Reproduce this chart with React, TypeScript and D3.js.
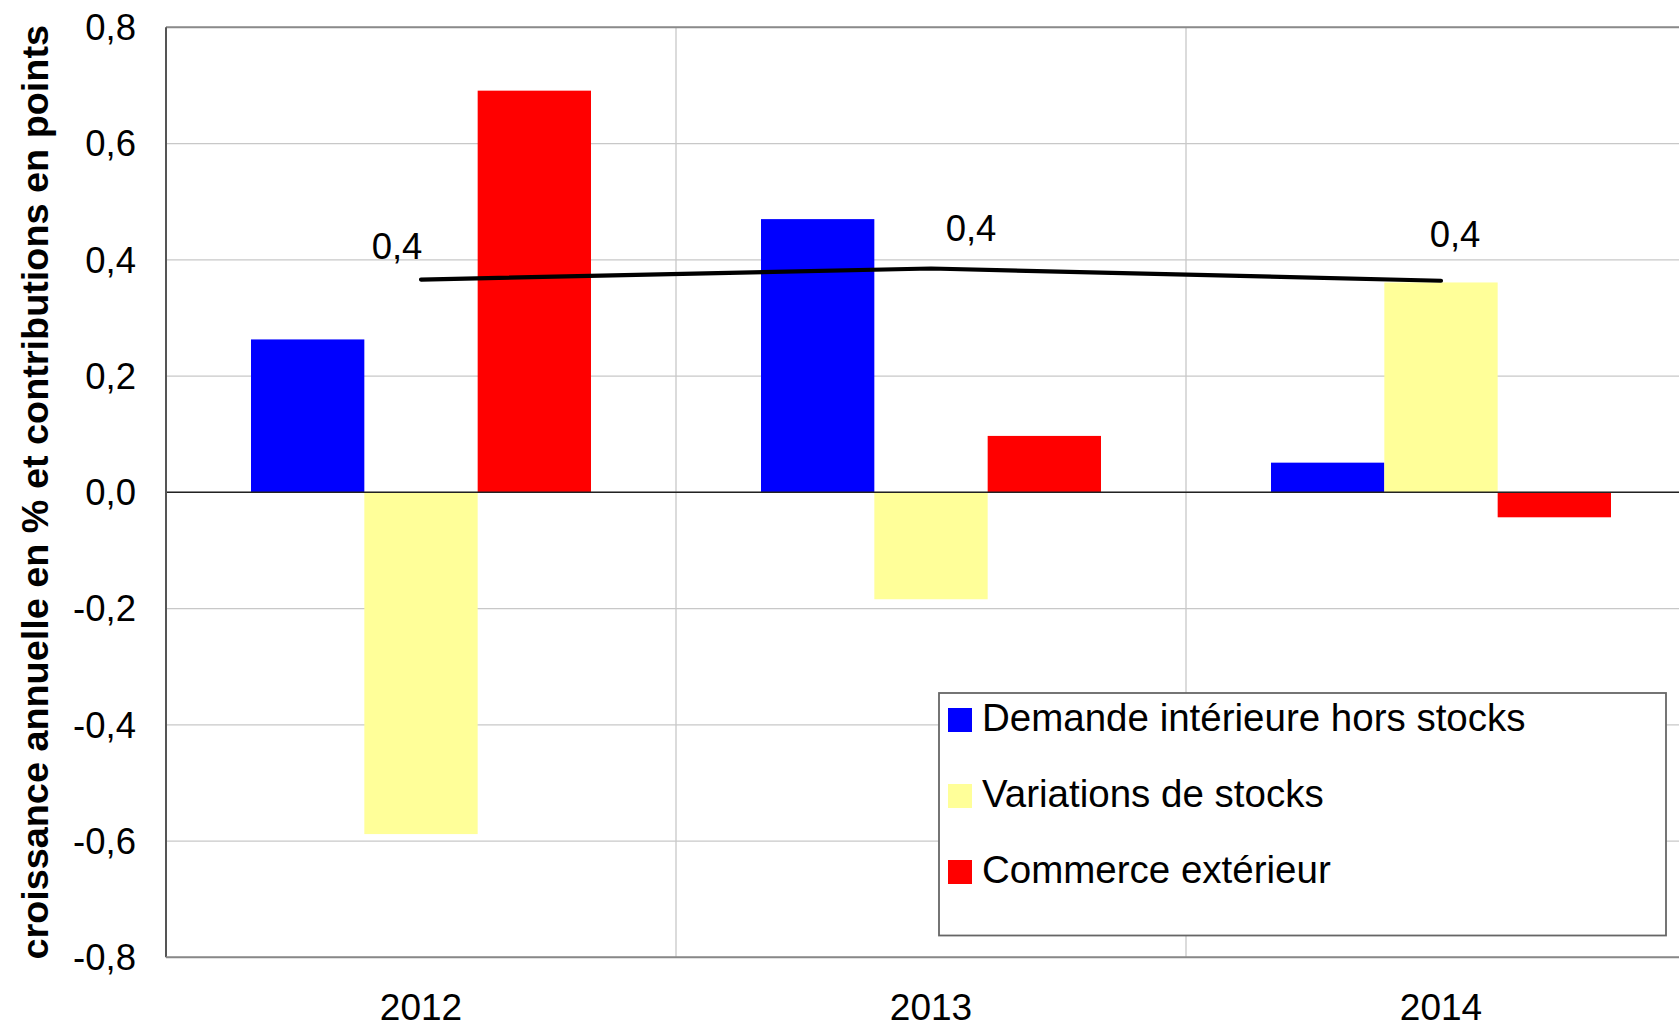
import React from "react";
import * as d3 from "d3";

const years = ["2012", "2013", "2014"];
const seriesNames = ["Demande intérieure hors stocks", "Variations de stocks", "Commerce extérieur"];
const seriesColors = ["#0000ff", "#ffff99", "#ff0000"];
const demande = [0.263, 0.47, 0.051];
const stocks = [-0.588, -0.184, 0.361];
const commerce = [0.691, 0.097, -0.043];
const total = [0.366, 0.385, 0.364];
const totalLabels = ["0,4", "0,4", "0,4"];
const yTicks = [-0.8, -0.6, -0.4, -0.2, 0, 0.2, 0.4, 0.6, 0.8];
const yTitle = "croissance annuelle en % et contributions en points";

const W = 1679;
const H = 1029;
const FONT = "'Liberation Sans', Arial, Helvetica, sans-serif";

export default function App() {
  const left = 166;
  const right = 1696;
  const top = 27.3;
  const bottom = 957.3;

  const x = d3.scaleBand<string>().domain(years).range([left, right]);
  const xs = d3
    .scaleBand<number>()
    .domain([0, 1, 2])
    .range([0, x.bandwidth()])
    .paddingOuter(0.75);
  const y = d3.scaleLinear().domain([-0.8, 0.8]).range([bottom, top]);
  const fmt = (v: number) => d3.format(".1f")(v).replace(".", ",").replace("−", "-");

  const seriesData = [demande, stocks, commerce];
  const line = d3
    .line<number>()
    .x((_, i) => (x(years[i]) as number) + x.bandwidth() / 2)
    .y((d) => y(d));

  // label offsets relative to line points (positioning only)
  const labelOffsets = [
    [-24, -21],
    [40, -28],
    [14, -34],
  ];

  return (
    <svg
      width={W}
      height={H}
      style={{ position: "absolute", left: 0, top: 0, background: "#fff" }}
      fontFamily={FONT}
    >
      <rect x={0} y={0} width={W} height={H} fill="#fff" />
      {yTicks.map((t) => (
        <line
          key={"g" + t}
          x1={left}
          x2={right}
          y1={y(t)}
          y2={y(t)}
          stroke="#c8c8c8"
          strokeWidth={1.3}
        />
      ))}
      {years.slice(1).map((yr) => (
        <line
          key={"v" + yr}
          x1={x(yr) as number}
          x2={x(yr) as number}
          y1={top}
          y2={bottom}
          stroke="#c8c8c8"
          strokeWidth={1.3}
        />
      ))}
      <line x1={left} x2={right} y1={top} y2={top} stroke="#8a8a8a" strokeWidth={2} />
      {seriesData.map((vals, si) =>
        vals.map((v, i) => {
          const bx = (x(years[i]) as number) + (xs(si) as number);
          return (
            <rect
              key={si + "-" + i}
              x={bx}
              width={xs.bandwidth()}
              y={y(Math.max(0, v))}
              height={Math.abs(y(v) - y(0))}
              fill={seriesColors[si]}
            />
          );
        })
      )}
      <line x1={left} x2={right} y1={y(0)} y2={y(0)} stroke="#222" strokeWidth={1.5} />
      <line x1={left} x2={left} y1={top} y2={bottom} stroke="#555" strokeWidth={2} />
      <line x1={left} x2={right} y1={bottom} y2={bottom} stroke="#888" strokeWidth={2} />
      <path
        d={line(total) as string}
        fill="none"
        stroke="#000"
        strokeWidth={4.2}
        strokeLinecap="round"
        strokeLinejoin="round"
      />
      {total.map((v, i) => (
        <text
          key={"l" + i}
          x={(x(years[i]) as number) + x.bandwidth() / 2 + labelOffsets[i][0]}
          y={y(v) + labelOffsets[i][1]}
          fontSize={36.5}
          textAnchor="middle"
          fill="#000"
        >
          {totalLabels[i]}
        </text>
      ))}
      {yTicks.map((t) => (
        <text
          key={"t" + t}
          x={136}
          y={y(t)}
          dy="0.35em"
          fontSize={36.5}
          textAnchor="end"
          fill="#000"
        >
          {fmt(t)}
        </text>
      ))}
      {years.map((yr) => (
        <text
          key={"x" + yr}
          x={(x(yr) as number) + x.bandwidth() / 2}
          y={1020}
          fontSize={37}
          textAnchor="middle"
          fill="#000"
        >
          {yr}
        </text>
      ))}
      <text
        transform={`translate(48, ${(top + bottom) / 2}) rotate(-90)`}
        fontSize={37.8}
        fontWeight="bold"
        textAnchor="middle"
        fill="#000"
      >
        {yTitle}
      </text>
      <rect x={939} y={693} width={727} height={242.5} fill="#fff" stroke="#666" strokeWidth={1.8} />
      {seriesNames.map((n, i) => (
        <g key={"lg" + i}>
          <rect x={948} y={708 + i * 76} width={24} height={24} fill={seriesColors[i]} />
          <text x={982} y={731 + i * 76} fontSize={38.5} fill="#000">
            {n}
          </text>
        </g>
      ))}
    </svg>
  );
}
